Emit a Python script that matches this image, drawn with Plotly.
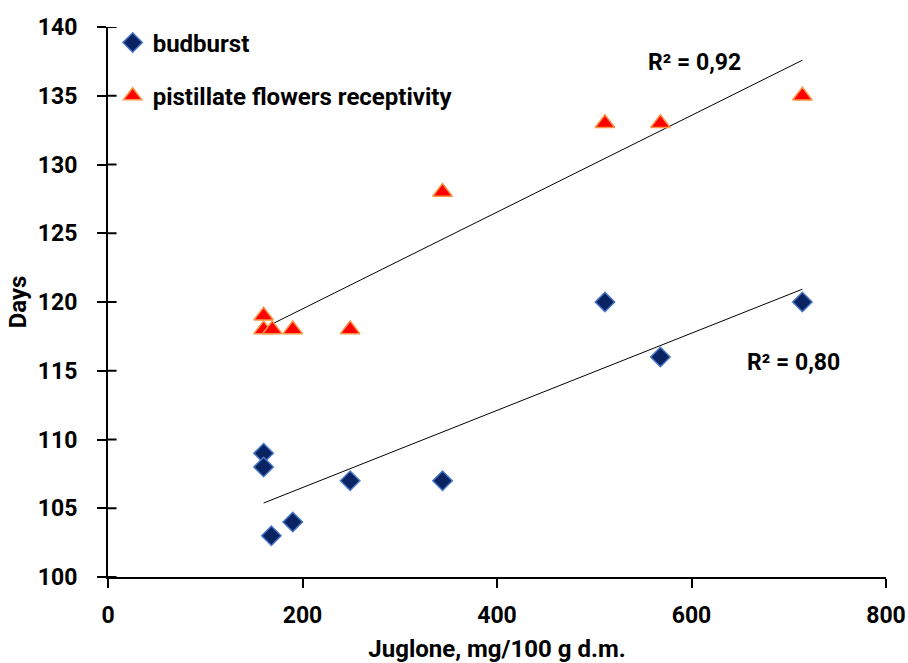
import numpy as np
import plotly.graph_objects as go

# Juglone content (mg/100 g d.m.) and phenological dates (days)
bud_x = [160, 160, 168, 190, 249, 344, 511, 568, 714]
bud_y = [109, 108, 103, 104, 107, 107, 120, 116, 120]
pist_x = [160, 160, 169, 190, 249, 344, 511, 568, 714]
pist_y = [119, 118, 118, 118, 118, 128, 133, 133, 135]

x_ticks = [0, 200, 400, 600, 800]
y_ticks = [100, 105, 110, 115, 120, 125, 130, 135, 140]

FONT = "Roboto"


def trend(xs, ys):
    k, b = np.polyfit(xs, ys, 1)
    xe = np.array([min(xs), max(xs)])
    return xe, k * xe + b


def bold(s):
    return "<b>" + s + "</b>"


fig = go.Figure()

for xs, ys in ((bud_x, bud_y), (pist_x, pist_y)):
    tx, ty = trend(xs, ys)
    fig.add_trace(go.Scatter(x=tx, y=ty, mode="lines",
                             line=dict(color="black", width=1),
                             showlegend=False, hoverinfo="skip"))

fig.add_trace(go.Scatter(
    x=bud_x, y=bud_y, mode="markers", name=bold("budburst"), legendgroup="a",
    marker=dict(symbol="diamond", size=15, color="#0a2463",
                line=dict(color="#4a78c8", width=1.5))))
fig.add_trace(go.Scatter(
    x=pist_x, y=pist_y, mode="markers",
    name=bold("pistillate flowers receptivity"), legendgroup="b",
    marker=dict(symbol="triangle-up", size=17, color="#ff0000",
                line=dict(color="#f79646", width=1.5))))

# inner half of the y ticks, which cross the axis line
for v in y_ticks:
    fig.add_shape(type="line", xref="x domain", yref="y",
                  x0=0, x1=0.011, y0=v, y1=v,
                  line=dict(color="black", width=2))

ann_font = dict(family=FONT, size=23, color="black")
fig.add_annotation(x=603, y=137.4, text=bold("R² = 0,92"), showarrow=False,
                   xanchor="center", yanchor="middle", font=ann_font)
fig.add_annotation(x=705, y=115.6, text=bold("R² = 0,80"), showarrow=False,
                   xanchor="center", yanchor="middle", font=ann_font)

axis_font = dict(family=FONT, size=24, color="black")
tick_font = dict(family=FONT, size=23, color="black")

fig.update_layout(
    width=908, height=663,
    margin=dict(l=108, r=22, t=27, b=86),
    paper_bgcolor="white", plot_bgcolor="white",
    font=dict(family=FONT, color="black"),
    legend=dict(x=0.006, y=1.012, xanchor="left", yanchor="top",
                bgcolor="rgba(0,0,0,0)", tracegroupgap=19,
                font=dict(family=FONT, size=24, color="black"),
                itemwidth=30),
    xaxis=dict(range=[0, 800], tickvals=x_ticks, ticks="outside", ticklen=9,
               tickwidth=2, tickcolor="black", showline=True, linewidth=2,
               linecolor="black", showgrid=False, zeroline=False,
               automargin=False, tickfont=tick_font, ticklabelstandoff=7,
               ticktext=[bold(str(v)) for v in x_ticks],
               title=dict(text=bold("Juglone, mg/100 g d.m."), font=axis_font,
                          standoff=21)),
    yaxis=dict(range=[100, 140], tickvals=y_ticks, ticks="outside", ticklen=9,
               tickwidth=2, tickcolor="black", showline=True, linewidth=2,
               linecolor="black", showgrid=False, zeroline=False,
               automargin=False, tickfont=tick_font, ticklabelstandoff=15,
               ticktext=[bold(str(v)) for v in y_ticks],
               title=dict(text=bold("Days"), font=axis_font, standoff=4)),
)

fig.write_html("out.html")
